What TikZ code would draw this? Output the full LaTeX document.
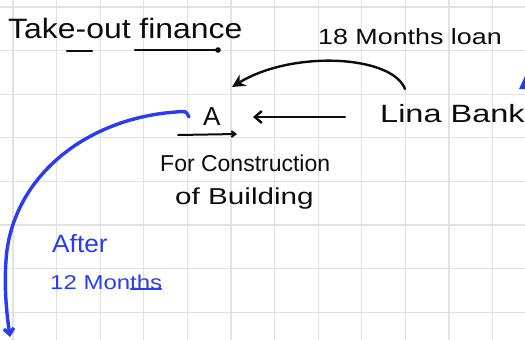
\documentclass[tikz,border=0pt]{standalone}
\usepackage{fontspec}
\setmainfont{Liberation Sans}
\usetikzlibrary{arrows.meta}
\definecolor{ink}{RGB}{12,12,12}
\definecolor{pen}{RGB}{40,60,245}
\definecolor{gridc}{RGB}{226,226,226}
\tikzset{
  txt/.style={anchor=base west, inner sep=0pt, text=ink},
  btxt/.style={anchor=base west, inner sep=0pt, text=pen},
  stroke/.style={draw=ink, line width=2.4pt, line cap=round},
  bstroke/.style={draw=pen, line width=3.4pt, line cap=round},
  gridline/.style={draw=gridc, line width=1.3pt},
}
\newcommand{\hw}[3]{\fontsize{#1}{#1}\selectfont\scalebox{#2}[1]{#3}}
\begin{document}
\begin{tikzpicture}[x=1pt,y=-1pt]
\useasboundingbox (0,0) rectangle (525,340);
\fill[white] (0,0) rectangle (525,340);
% grid
\foreach \i in {0,...,11} \draw[gridline] ({13+43.6*\i},0) -- ({13+43.6*\i},340);
\foreach \j in {0,...,7} \draw[gridline] (0,{7+43.6*\j}) -- (525,{7+43.6*\j});
% texts
\node[txt] (title) at (8,38) {\hw{28}{1.14}{Take-out finance}};
\node[txt] (loan) at (318,44) {\hw{22}{1.22}{18 Months loan}};
\node[txt] (bank) at (380,122) {\hw{25}{1.3}{Lina Bank}};
\node[txt] (A) at (203,125) {\hw{26}{1}{A}};
\node[txt] (p1) at (160,171) {\hw{23}{1.0}{For Construction}};
\node[txt] (p2) at (175,204) {\hw{23}{1.29}{of Building}};
\node[btxt] (after) at (52,252) {\hw{25}{1.05}{After}};
\node[btxt] (months) at (50,289) {\hw{20}{1.2}{12 Months}};
% coordinates
\coordinate (u1a) at (67,51); \coordinate (u1b) at (92,51);
\coordinate (u2a) at (135,50); \coordinate (u2b) at (218,50);
\coordinate (ca) at (405,89); \coordinate (cb) at (232,87);
\coordinate (sa) at (345,117); \coordinate (sb) at (253,117);
\coordinate (ua) at (178,135); \coordinate (ub) at (237,134);
\coordinate (bs) at (189,117); \coordinate (be) at (10,337);
\coordinate (mu1) at (131,289); \coordinate (mu2) at (161,289);
% title underlines
\draw[stroke] (u1a) -- (u1b);
\draw[stroke] (u2a) -- (u2b);
\fill[ink] (u2b) circle (2.8pt);
% loan curve
\draw[stroke, -{Stealth[length=13pt,width=13pt]}] (ca) .. controls (392,55) and (292,50) .. (cb);
% straight arrow
\draw[stroke, -{Straight Barb[length=7pt,width=12pt]}] (sa) -- (sb);
% underline A
\draw[stroke, line width=2pt, -{Straight Barb[length=4pt,width=6pt]}] (ua) -- (ub);
% blue curve
\draw[bstroke, -{Straight Barb[length=6pt,width=10pt]}] (bs) .. controls (186,111) .. (176,112) .. controls (90,118) and (18,172) .. (7,250) .. controls (3,285) and (7,315) .. (be);
\draw[bstroke, line width=2.6pt] (mu1) -- (mu2);
% blue mark at right edge
\fill[pen] (519,89) -- (525,76) -- (525,89) -- cycle;
\end{tikzpicture}
\end{document}
